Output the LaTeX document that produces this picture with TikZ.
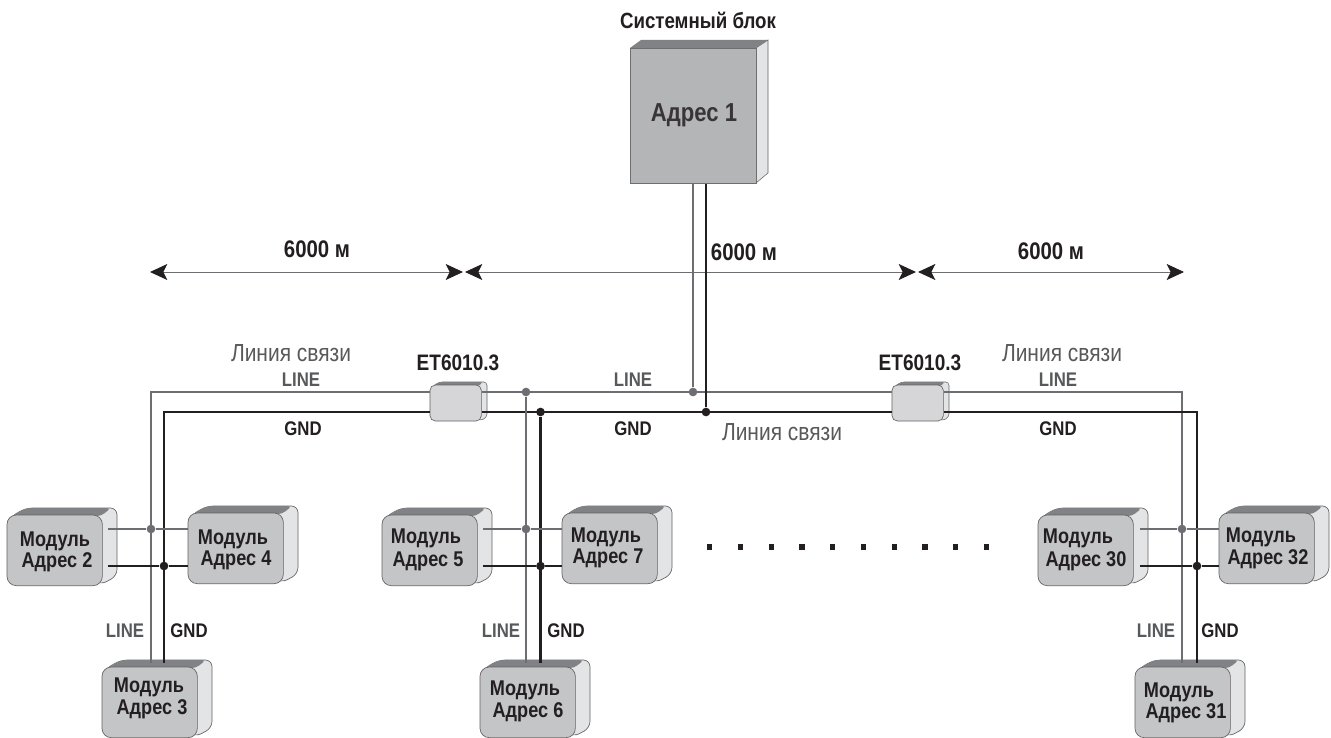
\documentclass[tikz,border=0pt]{standalone}
\usepackage{fontspec}
\setmainfont{Liberation Sans}[FakeStretch=0.85]
\usetikzlibrary{arrows.meta}
\definecolor{wgray}{HTML}{6D6E71}
\definecolor{wblack}{HTML}{231F20}
\definecolor{tgray}{HTML}{58595B}
\definecolor{frontc}{HTML}{C4C5C7}
\definecolor{sidec}{HTML}{E3E4E5}
\definecolor{topc}{HTML}{808285}
\tikzset{
  x=0.75pt,y=-0.75pt,
  lineg/.style={draw=wgray,line width=2.1pt},
  lineb/.style={draw=wblack,line width=2.1pt},
  front/.style={draw=wblack!70,line width=0.5pt,fill=frontc,rounded corners=7pt,inner sep=0pt,outer sep=0pt,anchor=north west},
  lbl/.style={font=\bfseries\fontsize{16}{18}\selectfont,text=wblack,inner sep=0pt},
  lblg/.style={font=\bfseries\fontsize{14.8}{16}\selectfont,text=tgray,inner sep=0pt},
  lblk/.style={font=\bfseries\fontsize{14.8}{16}\selectfont,text=wblack,inner sep=0pt},
  big/.style={font=\bfseries\fontsize{18}{20}\selectfont,text=wblack,inner sep=0pt},
  grayt/.style={font=\fontsize{18.5}{20}\selectfont,text=tgray,inner sep=0pt},
  dotg/.style={circle,fill=wgray,inner sep=0pt,minimum size=6.5pt},
  dotb/.style={circle,fill=wblack,inner sep=0pt,minimum size=6.5pt},
  dim/.style={draw=wgray,line width=0.7pt,{Stealth[length=13pt,width=12pt,inset=3pt,color=wblack]}-{Stealth[length=13pt,width=12pt,inset=3pt,color=wblack]}},
  sq/.style={fill=wblack,inner sep=0pt,minimum size=4pt},
}
% name, left, top, x1, y1, x2, y2, address
\newcommand{\modul}[8]{%
  \path[fill=sidec,draw=wblack!70,line width=0.5pt,rounded corners=5pt,line join=round]
    (#2+3,#3+2) -- (#2+19,#3-7) -- (#2+110,#3-7) -- (#2+110,#3+61) -- (#2+93,#3+70) -- cycle;
  \path[fill=topc,rounded corners=3pt]
    (#2+4,#3+2) -- (#2+19,#3-7) -- (#2+104,#3-7) -- (#2+94,#3+1) -- cycle;
  \node[front,minimum width=71.5pt,minimum height=53pt] (#1) at (#2,#3) {};
  \node[lbl] (#1a) at (#4,#5) {Модуль};
  \node[lbl] (#1b) at (#6,#7) {Адрес #8};
}
\begin{document}
\begin{tikzpicture}
\useasboundingbox (0,0) rectangle (1331,738);
\fill[white] (0,0) rectangle (1331,738);
% system unit
\fill[sidec,draw=wblack!70,line width=0.4pt] (756,48) -- (768,40) -- (768,173) -- (756,183) -- cycle;
\fill[topc] (630,48) -- (641,40) -- (768,40) -- (756,48) -- cycle;
\node[draw=wgray,line width=0.7pt,fill=frontc!92!black,minimum width=94.5pt,minimum height=101pt,inner sep=0pt,anchor=north west] (sys) at (630,48) {};
\node[font=\bfseries\fontsize{19.5}{22}\selectfont,text=wblack!90,inner sep=0pt] (sysa) at (694,115) {Адрес 1};
\node[big,font=\bfseries\fontsize{16.5}{20}\selectfont] (syst) at (698,20) {Системный блок};
% dimension arrows
\coordinate (a0) at (150,272);
\coordinate (a1) at (463,272);
\coordinate (a2) at (465,272);
\coordinate (a3) at (916,272);
\coordinate (a4) at (918,272);
\coordinate (a5) at (1184,272);
\draw[dim] (a0) -- (a1);
\draw[dim] (a2) -- (a3);
\draw[dim] (a4) -- (a5);
\node[big] (d1) at (317,249) {6000 м};
\node[big] (d2) at (744,252) {6000 м};
\node[big] (d3) at (1051,251) {6000 м};
% repeaters
\foreach \n/\l in {e1/430,e2/892}{
  \path[fill=sidec,draw=wblack!70,line width=0.4pt,rounded corners=2.5pt] (\l+2,387) -- (\l+9,382) -- (\l+57,382) -- (\l+57,417) -- (\l+50,421) -- cycle;
  \path[fill=topc,rounded corners=2pt] (\l+3,387) -- (\l+9,382) -- (\l+53,382) -- (\l+49,386) -- cycle;
  \node[front,draw=wblack!70,fill=frontc!70!white,rounded corners=4pt,minimum width=38.5pt,minimum height=27pt] (\n) at (\l,385) {};
}
\node[big,font=\bfseries\fontsize{16.8}{18}\selectfont] (et1) at (458,363) {ET6010.3};
\node[big,font=\bfseries\fontsize{16.8}{18}\selectfont] (et2) at (920,363) {ET6010.3};
% modules
\modul{m2}{7}{515}{55}{541}{57}{562}{2}
\modul{m4}{188}{513}{233}{539}{236}{560}{4}
\modul{m3}{102}{667}{149}{687}{152}{709}{3}
\modul{m5}{382}{515}{426}{538}{428}{561}{5}
\modul{m7}{562}{513}{606}{537}{608}{558}{7}
\modul{m6}{480}{667}{525}{690}{528}{712}{6}
\modul{m30}{1038}{515}{1078}{538}{1086}{561}{30}
\modul{m32}{1219}{513}{1261}{537}{1268}{559}{32}
\modul{m31}{1135}{667}{1179}{692}{1186}{713}{31}
% junctions
\node[dotg] (jg0) at (693,392) {};
\node[dotb] (jb0) at (706,412) {};
\node[dotg] (jg1) at (526,392) {};
\node[dotb] (jb1) at (540.5,412) {};
\node[dotg] (jl) at (151,529) {};
\node[dotb] (kl) at (164,566) {};
\node[dotg] (jc) at (526,529) {};
\node[dotb] (kc) at (540.5,566) {};
\node[dotg] (jr) at (1182,529) {};
\node[dotb] (kr) at (1197,566) {};
% coordinates
\coordinate (e1lo) at (482,392);
\coordinate (e1lb) at (482,412);
\coordinate (e2lo) at (944,392);
\coordinate (e2lb) at (944,412);
\coordinate (cl) at (151,392);
\coordinate (cb) at (164,412);
\coordinate (rl) at (1182,392);
\coordinate (rb) at (1197,412);
\coordinate (m3g) at (151,663);
\coordinate (m3b) at (164,663);
\coordinate (m6g) at (526,663);
\coordinate (m6b) at (540.5,663);
\coordinate (m31g) at (1182,663);
\coordinate (m31b) at (1197,663);
\coordinate (m2g) at (108,529);
\coordinate (m2b) at (108,566);
\coordinate (m5g) at (483,529);
\coordinate (m5b) at (483,566);
\coordinate (m30g) at (1140,529);
\coordinate (m30b) at (1140,566);
% wires
\draw[lineg] (m3g) -- (cl) -- (e1.west |- cl);
\draw[lineb] (m3b) -- (cb) -- (e1.west |- cb);
\draw[lineg] (e1lo) -- (e2.west |- e1lo);
\draw[lineb] (e1lb) -- (e2.west |- e1lb);
\draw[lineg] (e2lo) -- (rl) -- (m31g);
\draw[lineb] (e2lb) -- (rb) -- (m31b);
\draw[lineg] (jg1) -- (m6g);
\draw[lineb] (jb1) -- (m6b);
\draw[lineg] (sys.south -| jg0) -- (jg0);
\draw[lineb] (sys.south -| jb0) -- (jb0);
\draw[lineg] (m2g) -- (jl) -- (m4.west |- jl);
\draw[lineb] (m2b) -- (kl) -- (m4.west |- kl);
\draw[lineg] (m5g) -- (jc) -- (m7.west |- jc);
\draw[lineb] (m5b) -- (kc) -- (m7.west |- kc);
\draw[lineg] (m30g) -- (jr) -- (m32.west |- jr);
\draw[lineb] (m30b) -- (kr) -- (m32.west |- kr);
% labels
\node[grayt] (s1) at (291,353) {Линия связи};
\node[grayt] (s2) at (782,432) {Линия связи};
\node[grayt] (s3) at (1062,353) {Линия связи};
\node[lblg] (l1) at (301,380) {LINE};
\node[lblg] (l2) at (633,380) {LINE};
\node[lblg] (l3) at (1058,380) {LINE};
\node[lblk] (g1) at (303,429) {GND};
\node[lblk] (g2) at (633,429) {GND};
\node[lblk] (g3) at (1058,429) {GND};
\node[lblg] (l4) at (125,631) {LINE};
\node[lblk] (g4) at (189,631) {GND};
\node[lblg] (l5) at (501,631) {LINE};
\node[lblk] (g5) at (566,631) {GND};
\node[lblg] (l6) at (1156,631) {LINE};
\node[lblk] (g6) at (1220,631) {GND};
% dots
\foreach \i in {0,...,9}{
  \node[sq] (p\i) at (709.7+\i*30.75,547) {};
}
\end{tikzpicture}
\end{document}
